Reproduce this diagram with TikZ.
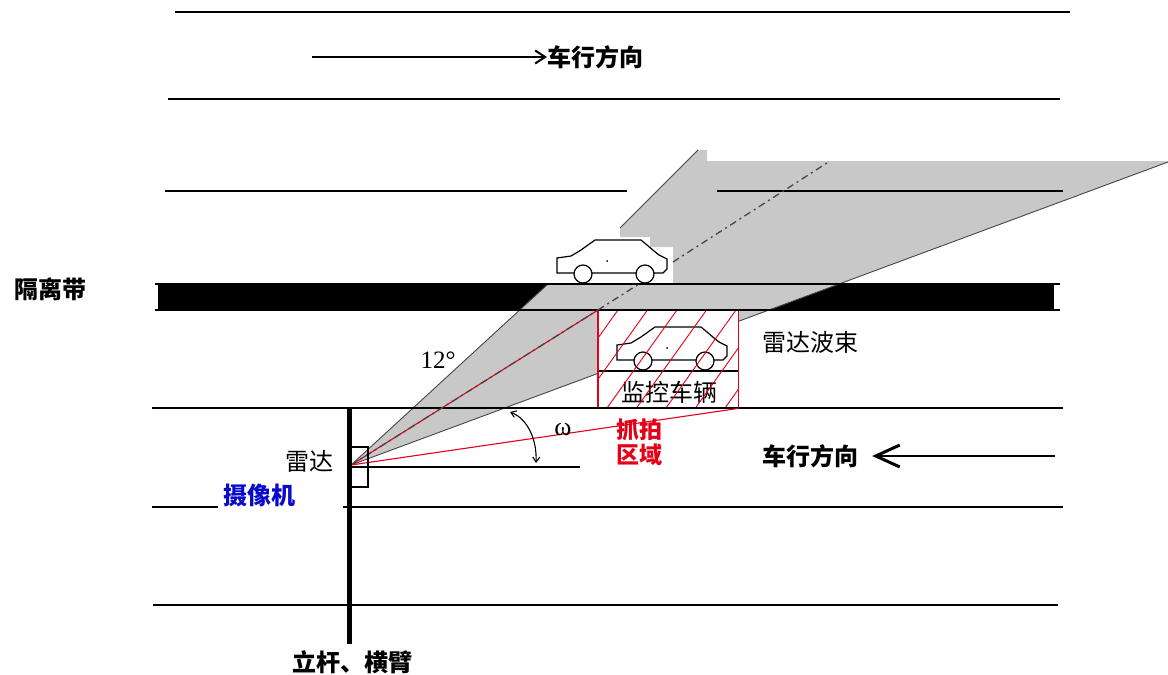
\documentclass[tikz,border=0pt]{standalone}
\usepackage{fontspec}
\newfontfamily\cjk{Noto Sans CJK SC}
\newfontfamily\tnr{Liberation Serif}
\usetikzlibrary{arrows.meta}
\definecolor{beamgray}{RGB}{200,200,200}
\definecolor{edgegray}{RGB}{70,70,70}
\definecolor{capred}{RGB}{228,0,24}
\definecolor{camblue}{RGB}{10,10,205}
\tikzset{
  lane/.style={line width=1.4pt, black},
  lbl/.style={inner sep=0pt, font=\cjk\fontsize{24}{28}\selectfont},
  lblb/.style={inner sep=0pt, font=\cjk\bfseries\fontsize{24}{28}\selectfont},
  beamedge/.style={edgegray, line width=0.9pt},
  centerline/.style={edgegray, line width=1.3pt, dash pattern=on 7pt off 4pt on 2pt off 4pt},
  hatchline/.style={capred, line width=0.9pt},
  sedan/.pic={
    \draw[line width=1.2pt, fill=white, line join=miter]
      (0,-10) -- (0,-25) -- (14,-27) -- (24,-33) -- (38,-43) -- (84,-43)
      -- (90,-38) -- (97,-32) -- (102,-28) -- (110,-24) -- (110,-14)
      -- (106,-10) -- cycle;
    \draw[line width=1.2pt, fill=white] (26,-9) circle[radius=9] (88,-9) circle[radius=9];
    \fill (50,-22) circle[radius=1];
  }
}
\begin{document}
\begin{tikzpicture}[x=1pt, y=-1pt]
\useasboundingbox (0,0) rectangle (1168,675);

% key points
\coordinate (apex) at (351,465);
\coordinate (upEdge) at (548,284);
\coordinate (farEdge) at (1168,162);
\coordinate (diagLow) at (620,228);
\coordinate (diagHigh) at (698,150);

% median strip
\fill[black] (158,285) rectangle (1054,310);

% radar beam
\fill[beamgray] (apex) -- (upEdge) -- (673,284) -- (673,247) -- (650,247)
  -- (650,237) -- (620,237) -- (diagLow) -- (diagHigh) -- (707,150)
  -- (707,161) -- (1168,161) -- (farEdge) -- cycle;
\draw[beamedge] (apex) -- (upEdge);
\draw[beamedge] (diagLow) -- (diagHigh);
\draw[beamedge] (apex) -- (farEdge);

% capture zone
\node[fill=white, minimum width=140pt, minimum height=98pt, inner sep=0pt,
      anchor=north west] (cap) at (598,310) {};
\pic (carB) at (617,370) {sedan};
\coordinate (gl) at (598,371);
\coordinate (gr) at (738,371);
\draw[line width=1.3pt] (gl) -- (gr);
\node[lbl, anchor=center] (watch) at (669,392) {监控车辆};
\begin{scope}
  \clip (cap.north west) rectangle (cap.south east);
  \foreach \k in {0,...,7} {
    \draw[hatchline] ({618+29.5*\k},310) -- ({618+29.5*\k-70},408);
  }
\end{scope}
\draw[capred, line width=1.4pt] (cap.north west) -- (cap.south west);
\draw[capred, line width=1.4pt] (cap.north east) -- (cap.south east);

% road markings
\draw[lane] (175,12) -- (1070,12);
\draw[lane] (168,99) -- (1060,99);
\draw[lane] (165,191) -- (627,191);
\draw[lane] (717,191) -- (1063,191);
\draw[lane] (155,284) -- (1060,284);
\draw[lane] (155,310) -- (1060,310);
\draw[lane] (152,408) -- (1063,408);
\draw[lane] (152,507) -- (218,507);
\draw[lane] (343,507) -- (1063,507);
\draw[lane] (153,605) -- (1058,605);

% vehicle beyond the median
\pic (carA) at (557,283) {sedan};

% beam centre line and capture rays
\coordinate (cTop) at (cap.north west);
\draw[capred, line width=1.1pt] (apex) -- (cTop);
\draw[centerline] (apex) -- (cTop);
\draw[centerline] (cTop) -- (639,284);
\draw[centerline] (673,262) -- (830,161);
\draw[capred, line width=1.1pt] (apex) -- (cap.south east);

% reference line and mounting angle
\coordinate (refEnd) at (580,467);
\draw[line width=1.2pt] (apex |- refEnd) -- (refEnd);
\coordinate (arcA) at (510,412);
\coordinate (arcB) at (536,463);
\draw[line width=1.1pt, {Straight Barb[length=5pt,width=7pt]}-{Straight Barb[length=5pt,width=7pt]}]
  (arcA) .. controls (528,419) and (537,440) .. (arcB);
\node[inner sep=0pt, font=\tnr\fontsize{26}{28}\selectfont] (omega) at (563,430) {ω};

% pole and radar housing
\draw[line width=5pt] (349,408) -- (349,644);
\draw[line width=1.1pt] (349,447) rectangle (368,487);

% labels
\node[lblb] (median) at (50,289) {隔离带};
\node[lbl] (radar) at (309,461) {雷达};
\node[lblb, text=camblue] (camera) at (259,495) {摄像机};
\node[lblb] (pole) at (352,662) {立杆、横臂};
\node[lbl] (beam) at (810,342) {雷达波束};
\node[inner sep=0pt, font=\tnr\fontsize{25}{28}\selectfont] (ang) at (438,360) {12°};
\node[lblb, text=capred, align=center, font=\cjk\bfseries\fontsize{23}{25}\selectfont] (zone) at (639,442) {抓拍\\区域};

% travel directions
\node[lblb, anchor=west] (dirTop) at (547,57) {车行方向};
\coordinate (arrTopStart) at (312,57);
\draw[line width=2.6pt, -{Straight Barb[length=10pt,width=13pt,line width=2pt]}]
  (arrTopStart) -- (dirTop.west);
\node[lblb] (dirBot) at (810,456) {车行方向};
\coordinate (arrBotStart) at (1055,456);
\draw[line width=2.6pt, -{Straight Barb[length=24pt,width=22pt,line width=3pt]}]
  (arrBotStart) -- ([xshift=14pt]dirBot.east);
\end{tikzpicture}
\end{document}
